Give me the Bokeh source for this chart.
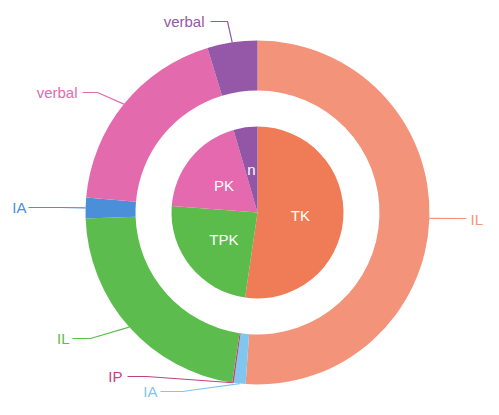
import numpy as np
from bokeh.plotting import figure
from bokeh.models import ColumnDataSource
from bokeh.core.properties import value
from bokeh.embed import file_html
from bokeh.resources import INLINE

# ---------------- data ----------------
inner_labels = ["TK", "TPK", "PK", "n"]
inner_values = [52.3, 23.9, 19.3, 4.5]
inner_colors = ["#EF7C57", "#5BBC4C", "#E469AE", "#9356A6"]

outer_labels = ["IL", "IA", "IP", "IL", "IA", "verbal", "verbal"]
outer_values = [51.1, 1.1, 0.15, 22.1, 1.95, 18.9, 4.7]
outer_colors = ["#F3937A", "#80C7EF", "#C0427F", "#5DBC4E", "#4A8FD8", "#E46AAE", "#9557A7"]

# ---------------- layout (centre at 0,0, y up) ----------------
R_PIE = 86
R_RING_IN = 122
R_RING_OUT = 172
R_INNER_TEXT = 43
# per outer label: elbow point, line end, text anchor, text align
leader_layout = [
    ((209, -6), (209, -6), (213, -7), "left"),
    ((-75, -179), (-97, -179), (-100, -179), "right"),
    ((-111, -164), (-130, -164), (-135, -164), "right"),
    ((-167, -126), (-185, -126), (-188, -126), "right"),
    ((-197, 5), (-229, 5), (-231, 5), "right"),
    ((-160, 120), (-175, 120), (-180, 120), "right"),
    ((-30, 191), (-47, 191), (-53, 191), "right"),
]

p = figure(width=483, height=399, x_range=(-257, 226), y_range=(-187, 212),
           output_backend="svg", toolbar_location=None, min_border=0)
p.axis.visible = False
p.grid.visible = False
p.outline_line_color = None
p.background_fill_color = "white"


def cum_angles(vals):
    v = np.array(vals, dtype=float)
    frac = v / v.sum()
    end = np.cumsum(frac) * 2 * np.pi
    start = end - frac * 2 * np.pi
    return start, end  # clockwise from top


# inner pie
s, e = cum_angles(inner_values)
src_in = ColumnDataSource(dict(start=np.pi / 2 - s, end=np.pi / 2 - e,
                               color=inner_colors, label=inner_labels,
                               tx=R_INNER_TEXT * np.sin((s + e) / 2),
                               ty=R_INNER_TEXT * np.cos((s + e) / 2)))
p.wedge(x=0, y=0, radius=R_PIE, start_angle="start", end_angle="end",
        direction="clock", fill_color="color", line_color=None, source=src_in)
p.text(x="tx", y="ty", text="label", source=src_in, text_color="white",
       text_font=value("Liberation Sans"), text_font_size="15px",
       text_align="center", text_baseline="middle")

# outer ring
s2, e2 = cum_angles(outer_values)
src_out = ColumnDataSource(dict(start=np.pi / 2 - s2, end=np.pi / 2 - e2,
                                color=outer_colors, label=outer_labels))
p.annular_wedge(x=0, y=0, inner_radius=R_RING_IN, outer_radius=R_RING_OUT,
                start_angle="start", end_angle="end", direction="clock",
                fill_color="color", line_color=None, source=src_out)

# leader lines and labels
mid = (s2 + e2) / 2
xs, ys, tx, ty, al, cols = [], [], [], [], [], []
for i, (elbow, end, t, a) in enumerate(leader_layout):
    ax = R_RING_OUT * np.sin(mid[i])
    ay = R_RING_OUT * np.cos(mid[i])
    xs.append([ax, elbow[0], end[0]])
    ys.append([ay, elbow[1], end[1]])
    tx.append(t[0])
    ty.append(t[1])
    al.append(a)
    cols.append(outer_colors[i])

p.multi_line(xs=xs, ys=ys, line_color=cols, line_width=1.2)
lab_src = ColumnDataSource(dict(x=tx, y=ty, text=outer_labels, align=al, color=cols))
p.text(x="x", y="y", text="text", source=lab_src, text_color="color",
       text_align="align", text_baseline="middle",
       text_font=value("Liberation Sans"), text_font_size="15px")

open("out.html", "w").write(file_html(p, INLINE))
